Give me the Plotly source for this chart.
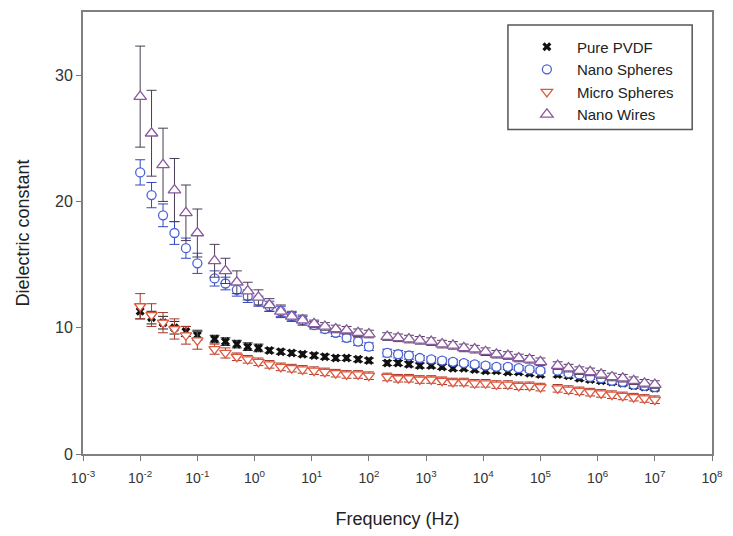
import plotly.graph_objects as go

# Measurement frequencies (Hz), four sweep segments
freq = [
    0.01, 0.0158, 0.0251, 0.0398, 0.0631, 0.1,
    0.2, 0.31, 0.49, 0.76, 1.17, 1.82, 2.88, 4.47, 6.92, 11.0, 17.0, 26.3, 40.7, 64.6, 100,
    209, 324, 501, 776, 1230, 1905, 2951, 4571, 7080, 10965, 16982, 26915, 41687, 64565, 100000,
    2.0e5, 3.1e5, 4.8e5, 7.4e5, 1.15e6, 1.78e6, 2.75e6, 4.27e6, 6.6e6, 1.0e7,
]

pure_pvdf = [
    11.3, 10.8, 10.4, 10.0, 9.7, 9.4,
    9.1, 8.9, 8.7, 8.5, 8.4, 8.2, 8.1, 8.0, 7.9, 7.8, 7.7, 7.6, 7.6, 7.5, 7.4,
    7.2, 7.2, 7.1, 7.0, 7.0, 6.9, 6.8, 6.8, 6.7, 6.6, 6.6, 6.5, 6.5, 6.4, 6.3,
    6.3, 6.2, 6.0, 5.9, 5.8, 5.7, 5.6, 5.4, 5.3, 5.2,
]
pure_pvdf_err = [
    0.6, 0.5, 0.5, 0.5, 0.4, 0.4,
    0.3, 0.3, 0.3, 0.3, 0.3, 0.2, 0.2, 0.2, 0.2, 0.2, 0.2, 0.2, 0.2, 0.2, 0.2,
    0.2, 0.2, 0.2, 0.2, 0.2, 0.2, 0.2, 0.2, 0.2, 0.2, 0.2, 0.2, 0.2, 0.2, 0.2,
    0.2, 0.2, 0.2, 0.2, 0.2, 0.2, 0.2, 0.2, 0.2, 0.2,
]

nano_spheres = [
    22.3, 20.5, 18.9, 17.5, 16.3, 15.1,
    13.9, 13.5, 13.0, 12.5, 12.1, 11.7, 11.3, 10.9, 10.6, 10.2, 9.9, 9.6, 9.2, 8.9, 8.5,
    8.0, 7.9, 7.8, 7.6, 7.5, 7.4, 7.3, 7.2, 7.1, 7.0, 6.9, 6.9, 6.8, 6.7, 6.6,
    6.6, 6.4, 6.3, 6.1, 6.0, 5.8, 5.7, 5.5, 5.4, 5.3,
]
nano_spheres_err = [
    1.0, 1.0, 0.9, 0.9, 0.8, 0.8,
    0.6, 0.5, 0.5, 0.5, 0.4, 0.4, 0.4, 0.3, 0.3, 0.3, 0.3, 0.3, 0.3, 0.3, 0.3,
    0.3, 0.3, 0.3, 0.2, 0.2, 0.2, 0.2, 0.2, 0.2, 0.2, 0.2, 0.2, 0.2, 0.2, 0.2,
    0.2, 0.2, 0.2, 0.2, 0.2, 0.2, 0.2, 0.2, 0.2, 0.2,
]

micro_spheres = [
    11.7, 11.0, 10.4, 9.9, 9.4, 9.0,
    8.3, 8.0, 7.7, 7.5, 7.3, 7.1, 6.9, 6.8, 6.7, 6.6, 6.5, 6.4, 6.3, 6.3, 6.2,
    6.1, 6.0, 6.0, 5.9, 5.9, 5.8, 5.7, 5.7, 5.6, 5.6, 5.5, 5.5, 5.4, 5.4, 5.3,
    5.2, 5.1, 5.0, 4.9, 4.8, 4.7, 4.6, 4.5, 4.4, 4.3,
]
micro_spheres_err = [
    1.0, 0.9, 0.8, 0.8, 0.7, 0.7,
    0.4, 0.4, 0.3, 0.3, 0.3, 0.3, 0.3, 0.3, 0.3, 0.3, 0.3, 0.3, 0.3, 0.3, 0.3,
    0.3, 0.3, 0.3, 0.3, 0.3, 0.3, 0.3, 0.3, 0.3, 0.3, 0.3, 0.3, 0.3, 0.3, 0.3,
    0.3, 0.3, 0.3, 0.3, 0.3, 0.3, 0.3, 0.3, 0.3, 0.3,
]

nano_wires = [
    28.3, 25.4, 22.9, 20.9, 19.1, 17.5,
    15.3, 14.5, 13.6, 12.9, 12.4, 11.8, 11.3, 10.9, 10.6, 10.3, 10.1, 9.9, 9.8, 9.6, 9.5,
    9.3, 9.2, 9.1, 9.0, 8.9, 8.7, 8.6, 8.4, 8.3, 8.1, 7.9, 7.8, 7.6, 7.5, 7.3,
    7.0, 6.8, 6.6, 6.5, 6.3, 6.1, 6.0, 5.8, 5.6, 5.5,
]
nano_wires_err = [
    4.0, 3.4, 2.9, 2.5, 2.2, 1.9,
    1.3, 1.0, 0.9, 0.7, 0.6, 0.5, 0.5, 0.4, 0.4, 0.3, 0.3, 0.3, 0.3, 0.3, 0.3,
    0.3, 0.3, 0.3, 0.3, 0.3, 0.3, 0.3, 0.3, 0.3, 0.3, 0.3, 0.3, 0.3, 0.3, 0.3,
    0.3, 0.3, 0.3, 0.3, 0.3, 0.3, 0.3, 0.3, 0.3, 0.3,
]

x_tick_exp = [-3, -2, -1, 0, 1, 2, 3, 4, 5, 6, 7, 8]
y_ticks = [0, 10, 20, 30]

FONT = "Arial, Liberation Sans, sans-serif"

series = [
    ("Pure PVDF", pure_pvdf, pure_pvdf_err, "x", "#111111", "#111111", "#222222", 8),
    ("Nano Spheres", nano_spheres, nano_spheres_err, "circle", "#4a63d6", "white", "#3348c0", 9),
    ("Micro Spheres", micro_spheres, micro_spheres_err, "triangle-down", "#e0583c", "white", "#a8362a", 10),
    ("Nano Wires", nano_wires, nano_wires_err, "triangle-up", "#8a5a9e", "white", "#4a3d55", 11),
]

fig = go.Figure()
for i, (name, vals, errs, sym, edge, fill, ecol, size) in enumerate(series):
    if sym == "x":
        marker = dict(symbol=sym, size=size, color=edge, line=dict(width=0))
    else:
        marker = dict(symbol=sym, size=size, color=fill, line=dict(color=edge, width=1.3))
    fig.add_trace(go.Scatter(
        x=freq, y=vals, mode="markers", name=name,
        legendgroup=f"g{i}",
        marker=marker,
        error_y=dict(type="data", array=errs, visible=True,
                     color=ecol, thickness=1, width=5),
    ))

# Legend frame
fig.add_shape(type="rect", xref="paper", yref="paper",
              x0=0.6756, x1=0.9685, y0=0.7342, y1=0.9707,
              line=dict(color="#555555", width=1.5), fillcolor="white", layer="below")

fig.update_layout(
    width=733, height=536,
    margin=dict(l=83, r=15, t=10, b=82),
    paper_bgcolor="white", plot_bgcolor="white",
    font=dict(family=FONT, size=13, color="#222222"),
    showlegend=True,
    legend=dict(
        x=0.6898, y=0.958, xanchor="left", yanchor="top",
        bgcolor="rgba(0,0,0,0)", borderwidth=0,
        font=dict(family=FONT, size=15, color="#222222"),
        tracegroupgap=0, itemwidth=50,
    ),
    xaxis=dict(
        type="log", range=[-3, 8],
        tickvals=[10 ** e for e in x_tick_exp],
        ticktext=[f"10<sup>{e}</sup>" for e in x_tick_exp],
        ticks="outside", ticklen=5, tickcolor="#777777", tickwidth=1,
        ticklabelstandoff=5,
        showline=True, linecolor="#808080", linewidth=2, mirror=True,
        showgrid=False, zeroline=False,
        tickfont=dict(family=FONT, size=14, color="#333333"),
        title=dict(text="Frequency (Hz)", standoff=28,
                   font=dict(family=FONT, size=18, color="#222222")),
    ),
    yaxis=dict(
        range=[0, 35], tickvals=y_ticks,
        ticks="outside", ticklen=5, tickcolor="#777777", tickwidth=1,
        showline=True, linecolor="#808080", linewidth=2, mirror=True,
        showgrid=False, zeroline=False,
        tickfont=dict(family=FONT, size=16, color="#333333"),
        title=dict(text="Dielectric constant", standoff=21,
                   font=dict(family=FONT, size=18, color="#222222")),
    ),
)

fig.write_html("out.html")
